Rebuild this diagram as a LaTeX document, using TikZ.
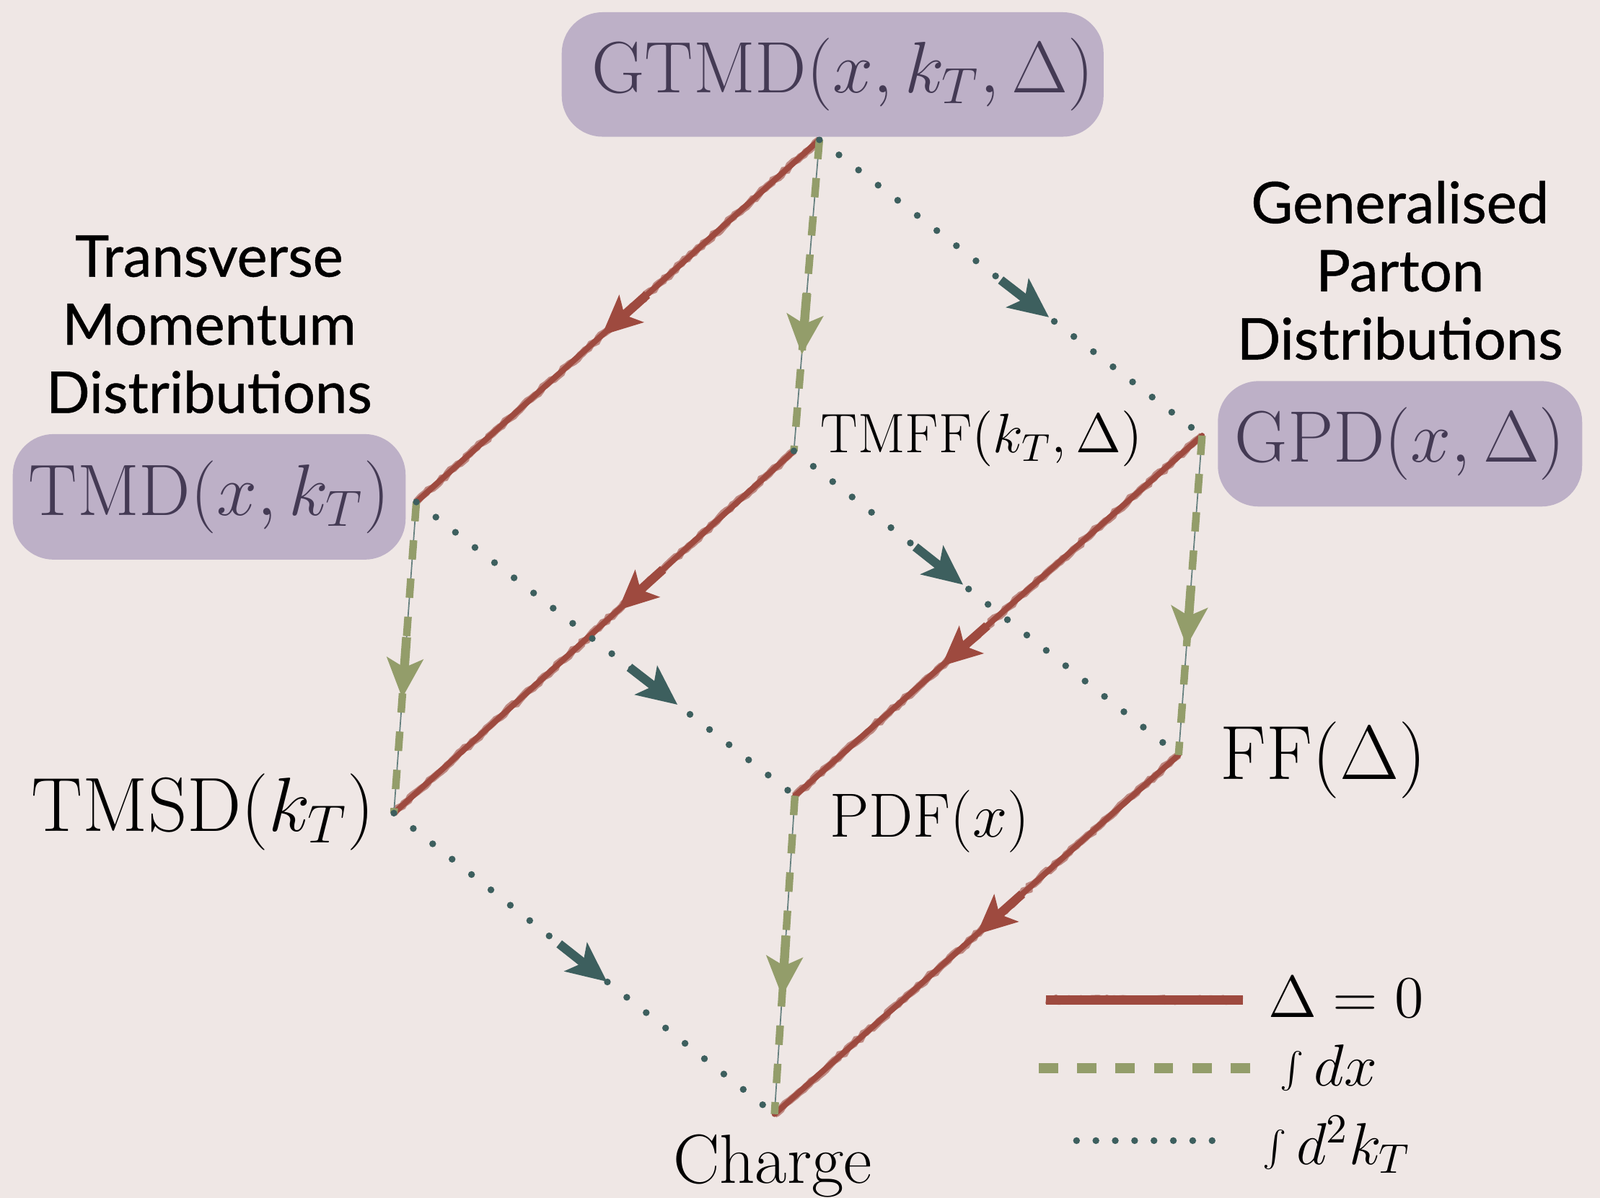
\RequirePackage{fix-cm}
\documentclass[tikz,border=0pt]{standalone}
\usepackage{fontspec}
\newfontfamily\sidefont[FakeBold=0.6]{Lato}
\usetikzlibrary{arrows.meta,decorations.markings,decorations.pathmorphing}
\definecolor{bgpaper}{HTML}{EFE7E5}
\definecolor{boxfill}{HTML}{BDB0C7}
\definecolor{boxtext}{HTML}{443A54}
\definecolor{chalkred}{HTML}{9E4A3F}
\definecolor{dashgreen}{HTML}{939D6A}
\definecolor{dotteal}{HTML}{3D5F5E}
\newcommand{\boxmath}{\fontsize{20.3}{24}\selectfont}
\newcommand{\bigmath}{\fontsize{21.4}{25}\selectfont}
\newcommand{\midmath}{\fontsize{15.5}{19}\selectfont}
\newcommand{\legmath}{\fontsize{16.5}{20}\selectfont}
\newcommand{\sidetext}{\fontsize{16}{19}\selectfont\sidefont}

\begin{document}
\begin{tikzpicture}[x=0.1mm,y=-0.1mm,
  distbox/.style={fill=boxfill,text=boxtext,rounded corners=4mm,inner sep=0pt,font=\boxmath},
  deltazero/.style={draw=chalkred,line width=1.6pt,line cap=round,
    preaction={draw=chalkred,opacity=0.6,line width=2.1pt,decorate,
      decoration={random steps,segment length=1.2pt,amplitude=0.35pt}}},
  intdx/.style={draw=dashgreen,line width=2.1pt,dash pattern=on 5.4pt off 5.3pt},
  guide/.style={draw=dotteal!80,line width=0.35pt},
  intkt/.style={draw=dotteal,line width=1.9pt,line cap=round,dash pattern=on 0pt off 6.9pt},
  midarrow/.style 2 args={postaction={decorate,decoration={markings,
    mark=at position #1 with {\draw[solid,line cap=butt,draw=#2,fill=#2,line width=2.5pt,
      -{Stealth[length=11pt,width=10pt,inset=2.5pt]}] (-17pt,0) -- (0,0);}}}}]
  \useasboundingbox (0,0) rectangle (1568,1174);
  \fill[bgpaper] (0,0) rectangle (1568,1174);
  % corners of the cube
  \coordinate (gtmdpt) at (803,137);
  \coordinate (tmdpt) at (408,492);
  \coordinate (tmffpt) at (778,442);
  \coordinate (gpdpt) at (1178,427);
  \coordinate (tmsdpt) at (386,797);
  \coordinate (pdfpt) at (779,780);
  \coordinate (ffpt) at (1155,740);
  \coordinate (chargept) at (759,1092);
  % Delta = 0
  \foreach \a/\b/\p in {gtmdpt/tmdpt/0.54,tmffpt/tmsdpt/0.44,gpdpt/pdfpt/0.64,ffpt/chargept/0.5}{%
    \draw[deltazero,midarrow={\p}{chalkred}] (\a) -- (\b);
  }
  % integral over x
  \foreach \a/\b/\p in {gtmdpt/tmffpt/0.69,tmdpt/tmsdpt/0.63,gpdpt/ffpt/0.66,pdfpt/chargept/0.63}{%
    \draw[guide] (\a) -- (\b);
    \draw[intdx,midarrow={\p}{dashgreen}] (\a) -- (\b);
  }
  % integral over k_T
  \foreach \a/\b/\p in {gtmdpt/gpdpt/0.6,tmdpt/pdfpt/0.69,tmffpt/ffpt/0.44,tmsdpt/chargept/0.56}{%
    \draw[intkt,midarrow={\p}{dotteal}] (\a) -- (\b);
  }
  % boxed distributions
  \node[distbox,minimum width=53.1mm,minimum height=12.2mm] (gtmd) at (816,73) {\hspace{2mm}$\mathrm{GTMD}(x,k_T,\Delta)$};
  \node[distbox,minimum width=38.5mm,minimum height=12.3mm] (tmd) at (205,487) {$\mathrm{TMD}(x,k_T)$};
  \node[distbox,minimum width=35.7mm,minimum height=12.3mm] (gpd) at (1372,435) {$\mathrm{GPD}(x,\Delta)$};
  % plain labels
  \node[font=\midmath] (tmff) at (962,430) {$\mathrm{TMFF}(k_T,\Delta)$};
  \node[font=\fontsize{17.4}{21}\selectfont] (pdf) at (911,805) {$\mathrm{PDF}(x)$};
  \node[font=\bigmath] (ff) at (1297,745) {$\mathrm{FF}(\Delta)$};
  \node[font=\bigmath] (tmsd) at (199,796) {$\mathrm{TMSD}(k_T)$};
  \node[font=\fontsize{19.4}{23}\selectfont,anchor=base] (charge) at (757,1160) {Charge};
  \node[font=\sidetext,align=center] (tmdname) at (205,318) {Transverse\\Momentum\\Distributions};
  \node[font=\sidetext,align=center] (gpdname) at (1372,265) {Generalised\\Parton\\Distributions};
  % legend
  \coordinate (legreds) at (1025,980);
  \coordinate (legrede) at (1218,980);
  \coordinate (leggreens) at (1018,1047);
  \coordinate (leggreene) at (1225,1047);
  \coordinate (legteals) at (1055,1118);
  \coordinate (legteale) at (1190,1118);
  \draw[deltazero,line width=2.6pt,line cap=butt] (legreds) -- (legrede);
  \draw[intdx,line width=2.7pt] (leggreens) -- (leggreene);
  \draw[intkt,dash pattern=on 0pt off 5.4pt] (legteals) -- (legteale);
  \node[font=\legmath,inner sep=0pt] (legdelta) at (1319,977) {$\Delta=0$};
  \node[font=\legmath,inner sep=0pt] (legdx) at (1302,1047) {$\int dx$};
  \node[font=\legmath,inner sep=0pt] (legkt) at (1310,1122) {$\int d^2k_T$};
\end{tikzpicture}
\end{document}
